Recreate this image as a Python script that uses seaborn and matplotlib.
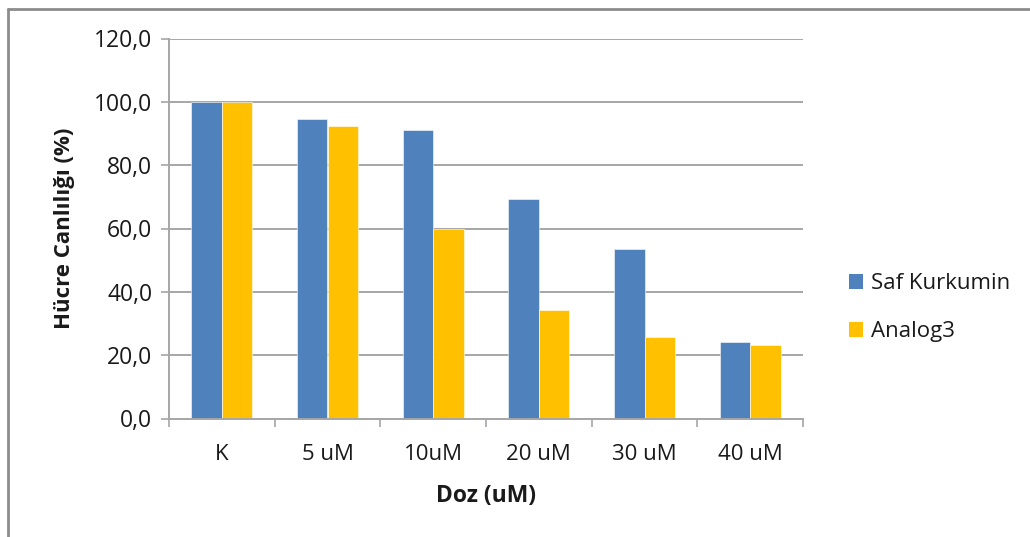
import matplotlib
matplotlib.use("Agg")
import matplotlib.pyplot as plt
import seaborn as sns
import pandas as pd
from matplotlib.lines import Line2D
from matplotlib.patches import Patch
from matplotlib.ticker import FuncFormatter, FixedLocator

# Dose groups and cell viability (%) for each compound
doses = ["K", "5 uM", "10uM", "20 uM", "30 uM", "40 uM"]
saf_kurkumin = [100.0, 94.5, 91.2, 69.4, 53.6, 24.1]
analog3 = [100.0, 92.5, 59.9, 34.4, 25.8, 23.3]
series_names = ["Saf Kurkumin", "Analog3"]
colors = ["#4F81BD", "#FFC000"]

df = pd.DataFrame({
    "Doz": doses * 2,
    "Canlilik": saf_kurkumin + analog3,
    "Seri": [series_names[0]] * len(doses) + [series_names[1]] * len(doses),
})

sns.set_theme(style="white")
plt.rcParams["font.family"] = ["Open Sans", "DejaVu Sans"]

W, H = 1030, 537
fig = plt.figure(figsize=(W / 100, H / 100), dpi=100)
ax = fig.add_axes([169 / W, 1 - 418.5 / H, (803 - 169) / W, (418.5 - 38.5) / H])

sns.barplot(data=df, x="Doz", y="Canlilik", hue="Seri", order=doses,
            hue_order=series_names, palette=colors, width=0.575,
            saturation=1, ax=ax, legend=False, edgecolor="white", linewidth=0.4)

grid_c = "#A6A6A6"
text_c = "#1a1a1a"
fs = 16
ax.set_ylim(0, 120)
ax.set_xlim(-0.5, len(doses) - 0.5)
ax.set_yticks(range(0, 121, 20))
ax.yaxis.set_major_formatter(FuncFormatter(lambda v, p: f"{v:.1f}".replace(".", ",")))
ax.yaxis.grid(True, color=grid_c, linewidth=1.4)
ax.set_axisbelow(True)

for s in ["top", "right"]:
    ax.spines[s].set_visible(False)
for s in ["left", "bottom"]:
    ax.spines[s].set_color(grid_c)
    ax.spines[s].set_linewidth(1.4)

ax.tick_params(axis="y", which="major", direction="out", length=6, width=1.2,
               color=grid_c, labelsize=16.5, labelcolor=text_c, pad=6, left=True)
ax.tick_params(axis="x", which="major", length=0, labelsize=fs,
               labelcolor=text_c, pad=18)
ax.xaxis.set_minor_locator(FixedLocator([i - 0.5 for i in range(len(doses) + 1)]))
ax.tick_params(axis="x", which="minor", direction="out", length=6, width=1.2,
               color=grid_c, bottom=True)

ax.set_xlabel("Doz (uM)", fontsize=16.5, fontweight="bold", color=text_c, labelpad=14)
ax.set_ylabel("Hücre Canlılığı (%)", fontsize=16, fontweight="bold", color=text_c,
              labelpad=14)

handles = [Patch(facecolor=c, edgecolor="none") for c in colors]
fig.legend(handles, series_names, loc="upper left",
           bbox_to_anchor=(829 / W, 1 - 253 / H), frameon=False, fontsize=16,
           handlelength=0.65, handleheight=0.65, handletextpad=0.35,
           labelspacing=1.23, labelcolor=text_c)

# outer chart frame (top and left edges)
frame_c = "#8C8C8C"
fig.add_artist(Line2D([8 / W, 8 / W], [0, 1 - 9 / H], transform=fig.transFigure,
                      color=frame_c, linewidth=2))
fig.add_artist(Line2D([8 / W, 1], [1 - 9 / H, 1 - 9 / H], transform=fig.transFigure,
                      color=frame_c, linewidth=2))

fig.savefig("out.png", dpi=100, facecolor="white")
